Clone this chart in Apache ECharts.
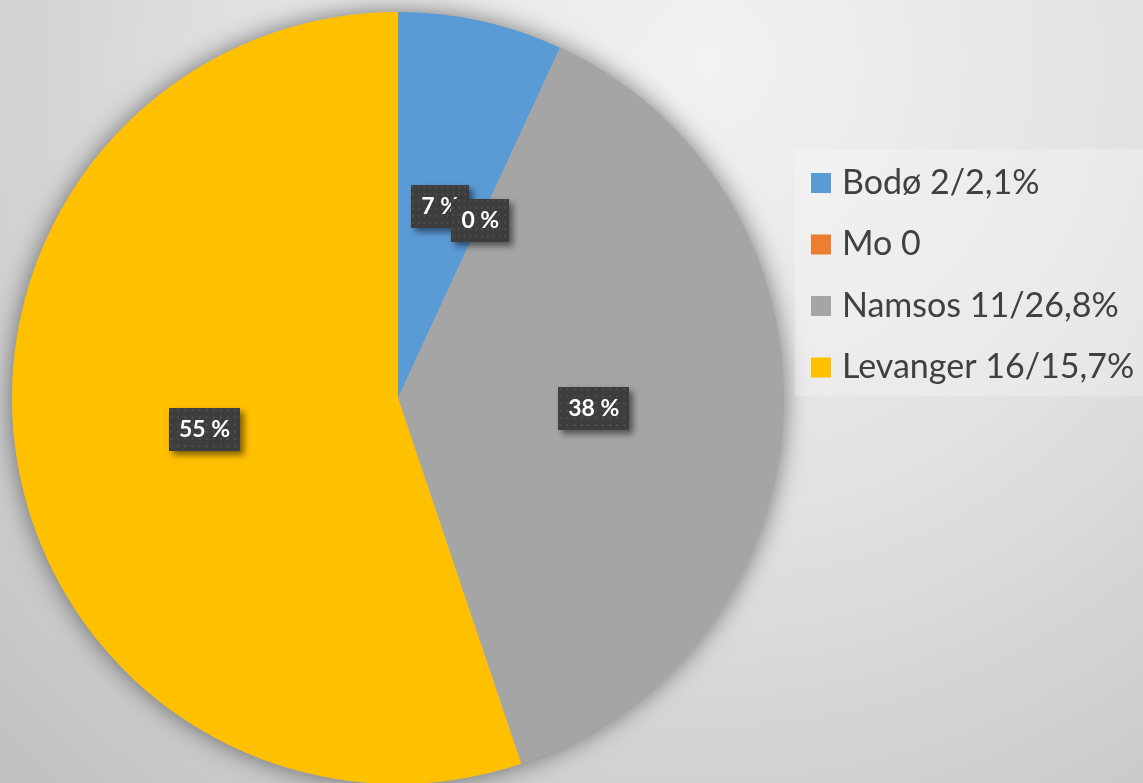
<!DOCTYPE html>
<html>
<head>
<meta charset="utf-8">
<script src="https://cdn.jsdelivr.net/npm/echarts@6/dist/echarts.min.js"></script>
<style>
  html, body { margin: 0; padding: 0; }
  #chart { width: 1143px; height: 783px; }
</style>
</head>
<body>
<div id="chart"></div>
<script>
// Legend texts (also the slice names) and slice values
const names = ['Bodø 2/2,1%', 'Mo 0', 'Namsos 11/26,8%', 'Levanger 16/15,7%'];
const values = [2, 0, 11, 16];
const colors = ['#5B9BD5', '#ED7D31', '#A5A5A5', '#FFC000'];

// dotted dark fill for the value boxes
function dotTexture() {
  const c = document.createElement('canvas');
  c.width = 70; c.height = 42;
  const g = c.getContext('2d');
  g.fillStyle = '#3d3d3d';
  g.fillRect(0, 0, c.width, c.height);
  g.fillStyle = '#4f4f4f';
  for (let y = 1; y < c.height; y += 7) {
    for (let x = 1; x < c.width; x += 7) {
      g.fillRect(x, y, 2, 2);
    }
  }
  return c;
}

const chart = echarts.init(document.getElementById('chart'), null, { renderer: 'canvas' });

const center = ['398', '398'];
const radius = 386;

chart.setOption({
  animation: false,
  backgroundColor: {
    type: 'radial', x: 0.62, y: 0.08, r: 1.25,
    colorStops: [
      { offset: 0, color: '#f2f2f2' },
      { offset: 0.45, color: '#e2e2e2' },
      { offset: 1, color: '#c2c2c2' }
    ]
  },
  legend: {
    data: names,
    orient: 'vertical',
    left: 795,
    top: 149,
    padding: [14, 24, 9, 16],
    backgroundColor: 'rgba(255,255,255,0.26)',
    itemWidth: 20,
    itemHeight: 20,
    itemGap: 21.5,
    icon: 'rect',
    selectedMode: false,
    textStyle: {
      fontFamily: 'Lato',
      fontSize: 34,
      lineHeight: 40,
      color: '#404040',
      padding: [0, 0, 0, 6]
    }
  },
  series: [
    {
      // soft drop shadow under the whole pie
      type: 'pie',
      silent: true,
      center: center,
      radius: radius,
      label: { show: false },
      labelLine: { show: false },
      itemStyle: {
        color: '#b0b0b0',
        shadowBlur: 24,
        shadowColor: 'rgba(0,0,0,0.5)'
      },
      data: [{ value: 1, name: '' }]
    },
    {
      type: 'pie',
      center: center,
      radius: radius,
      startAngle: 90,
      clockwise: true,
      minShowLabelAngle: 0,
      avoidLabelOverlap: false,
      labelLayout: { hideOverlap: false },
      emphasis: { disabled: true },
      itemStyle: { borderWidth: 0 },
      label: {
        show: true,
        position: 'inside',
        formatter: p => Math.round(p.percent) + ' %',
        fontFamily: 'Lato',
        fontWeight: 'bold',
        fontSize: 23,
        color: '#ffffff',
        backgroundColor: { image: dotTexture() },
        padding: [10, 10, 10, 10],
        shadowColor: 'rgba(0,0,0,0.5)',
        shadowBlur: 6,
        shadowOffsetX: 4,
        shadowOffsetY: 4
      },
      labelLine: { show: false },
      data: names.map((n, i) => ({ name: n, value: values[i], itemStyle: { color: colors[i] } }))
    }
  ]
});
</script>
</body>
</html>
